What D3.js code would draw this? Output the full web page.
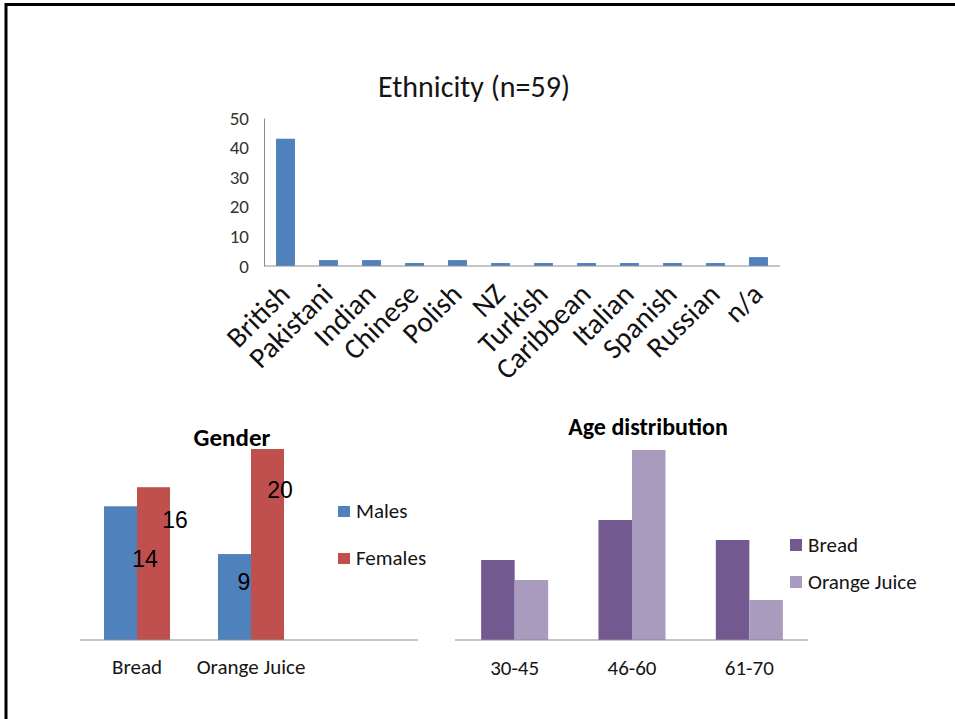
<!DOCTYPE html>
<html>
<head>
<meta charset="utf-8">
<script src="https://cdn.jsdelivr.net/npm/d3@7"></script>
<style>
  html, body { margin: 0; padding: 0; background: #fff; }
  svg { display: block; }
  text { font-family: Carlito, Lato, "Open Sans", sans-serif; }
</style>
</head>
<body>
<svg id="chart" width="955" height="719"></svg>
<script>
// Ethnicity counts (n = 59)
const ethnicCategories = ["British", "Pakistani", "Indian", "Chinese", "Polish", "NZ",
  "Turkish", "Caribbean", "Italian", "Spanish", "Russian", "n/a"];
const ethnicCounts = [43, 2, 2, 1, 2, 1, 1, 1, 1, 1, 1, 3];
const ethnicTicks = [0, 10, 20, 30, 40, 50];

// Gender split per product group
const genderGroups = ["Bread", "Orange Juice"];
const genderSeries = ["Males", "Females"];
const males = [14, 9];
const females = [16, 20];

// Age bands per product group
const ageBands = ["30-45", "46-60", "61-70"];
const ageSeries = ["Bread", "Orange Juice"];
const ageBread = [8, 12, 10];
const ageJuice = [6, 19, 4];

// Value-label offsets from each bar's top-right corner (Males/Females per group)
const valueLabelNudge = [[8, 61], [5, 41], [-7, 36], [-4, 49]];

const svg = d3.select("#chart");
const axisGrey = "#8c8c8c";
const ink = "#151515";

// Slide frame
svg.append("path")
  .attr("d", "M6,719V4.5H955")
  .attr("fill", "none")
  .attr("stroke", "#000")
  .attr("stroke-width", 3);

// ---------- Ethnicity ----------
{
  const x = d3.scaleBand().domain(ethnicCategories).range([264, 780])
    .paddingInner(0.56).paddingOuter(0.28);
  const y = d3.scaleLinear().domain([0, 50]).range([266, 118]);
  const g = svg.append("g");

  g.append("text").attr("x", 474).attr("y", 97).attr("text-anchor", "middle")
    .attr("font-size", 30).attr("fill", ink).text("Ethnicity (n=59)");

  g.selectAll("rect").data(ethnicCounts).join("rect")
    .attr("x", (d, i) => x(ethnicCategories[i]))
    .attr("y", d => y(d))
    .attr("width", x.bandwidth())
    .attr("height", d => y(0) - y(d))
    .attr("fill", "#4f81bd");

  const yAxis = g.append("g").attr("transform", "translate(264,0)")
    .call(d3.axisLeft(y).tickValues(ethnicTicks).tickSize(0).tickPadding(15));
  yAxis.select(".domain").attr("stroke", axisGrey);
  yAxis.selectAll("text").attr("font-size", 19).attr("fill", "#333")
    .style("font-family", "Carlito, Lato, 'Open Sans', sans-serif");

  g.append("line").attr("x1", 264).attr("x2", 780).attr("y1", y(0)).attr("y2", y(0))
    .attr("stroke", axisGrey);

  g.selectAll("text.cat").data(ethnicCategories).join("text")
    .attr("class", "cat")
    .attr("text-anchor", "end")
    .attr("font-size", 29)
    .attr("fill", "#111")
    .attr("transform", d => `translate(${x(d) + x.bandwidth() / 2 + 6},${y(0) + 30}) rotate(-45)`)
    .text(d => d);
}

// ---------- Gender ----------
{
  const x0 = d3.scaleBand().domain(genderGroups).range([80, 308]);
  const x1 = d3.scaleBand().domain(genderSeries).range([0, x0.bandwidth()]).paddingOuter(0.727);
  const y = d3.scaleLinear().domain([0, 20]).range([640, 449]);
  const colors = { Males: "#4f81bd", Females: "#c0504d" };
  const g = svg.append("g");

  g.append("text").attr("x", 232).attr("y", 446).attr("text-anchor", "middle")
    .attr("font-size", 25).attr("font-weight", "bold").attr("fill", "#000").text("Gender");

  const rows = [];
  genderGroups.forEach((grp, i) => {
    rows.push({ grp, s: "Males", v: males[i] });
    rows.push({ grp, s: "Females", v: females[i] });
  });

  g.selectAll("rect.bar").data(rows).join("rect")
    .attr("class", "bar")
    .attr("x", d => x0(d.grp) + x1(d.s))
    .attr("y", d => y(d.v))
    .attr("width", x1.bandwidth())
    .attr("height", d => y(0) - y(d.v))
    .attr("fill", d => colors[d.s]);

  g.selectAll("text.val").data(rows).join("text")
    .attr("class", "val")
    .attr("x", (d, i) => x0(d.grp) + x1(d.s) + x1.bandwidth() + valueLabelNudge[i][0])
    .attr("y", (d, i) => y(d.v) + valueLabelNudge[i][1])
    .attr("text-anchor", "middle")
    .attr("font-size", 23)
    .style("font-family", "'Liberation Sans', Arial, sans-serif")
    .attr("fill", "#000")
    .text(d => d.v);

  g.append("line").attr("x1", 80).attr("x2", 418).attr("y1", y(0)).attr("y2", y(0))
    .attr("stroke", axisGrey);

  g.selectAll("text.cat").data(genderGroups).join("text")
    .attr("class", "cat")
    .attr("x", d => x0(d) + x0.bandwidth() / 2)
    .attr("y", 674)
    .attr("text-anchor", "middle")
    .attr("font-size", 21)
    .attr("fill", ink)
    .text(d => d);

  const leg = g.selectAll("g.leg").data(genderSeries).join("g")
    .attr("class", "leg")
    .attr("transform", (d, i) => `translate(338,${506 + i * 47})`);
  leg.append("rect").attr("width", 12).attr("height", 11).attr("fill", d => colors[d]);
  leg.append("text").attr("x", 18).attr("y", 12).attr("font-size", 21).attr("fill", ink).text(d => d);
}

// ---------- Age distribution ----------
{
  const x0 = d3.scaleBand().domain(ageBands).range([456, 808]);
  const x1 = d3.scaleBand().domain(ageSeries).range([0, x0.bandwidth()]).paddingOuter(0.75);
  const y = d3.scaleLinear().domain([0, 19]).range([640, 450]);
  const colors = { "Bread": "#72598f", "Orange Juice": "#a99bbe" };
  const g = svg.append("g");

  g.append("text").attr("x", 648).attr("y", 435).attr("text-anchor", "middle")
    .attr("font-size", 24).attr("font-weight", "bold").attr("fill", "#000").text("Age distribution");

  const rows = [];
  ageBands.forEach((b, i) => {
    rows.push({ b, s: "Bread", v: ageBread[i] });
    rows.push({ b, s: "Orange Juice", v: ageJuice[i] });
  });

  g.selectAll("rect.bar").data(rows).join("rect")
    .attr("class", "bar")
    .attr("x", d => x0(d.b) + x1(d.s))
    .attr("y", d => y(d.v))
    .attr("width", x1.bandwidth())
    .attr("height", d => y(0) - y(d.v))
    .attr("fill", d => colors[d.s]);

  g.append("line").attr("x1", 455).attr("x2", 808).attr("y1", y(0)).attr("y2", y(0))
    .attr("stroke", axisGrey);

  g.selectAll("text.cat").data(ageBands).join("text")
    .attr("class", "cat")
    .attr("x", d => x0(d) + x0.bandwidth() / 2)
    .attr("y", 675)
    .attr("text-anchor", "middle")
    .attr("font-size", 21)
    .attr("fill", ink)
    .text(d => d);

  const leg = g.selectAll("g.leg").data(ageSeries).join("g")
    .attr("class", "leg")
    .attr("transform", (d, i) => `translate(790,${539 + i * 37})`);
  leg.append("rect").attr("width", 12).attr("height", 12).attr("fill", d => colors[d]);
  leg.append("text").attr("x", 18).attr("y", 13).attr("font-size", 21).attr("fill", ink).text(d => d);
}
</script>
</body>
</html>
